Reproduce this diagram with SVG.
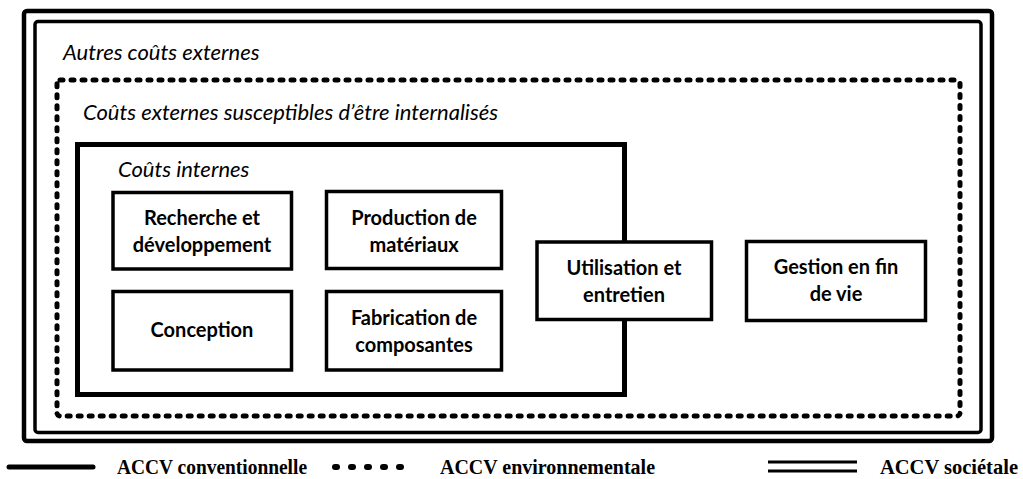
<svg xmlns="http://www.w3.org/2000/svg" width="1023" height="479" viewBox="0 0 1023 479">
  <style>
    .frame { fill: none; stroke: #000; }
    .box { fill: #fff; stroke: #000; stroke-width: 3.5; }
    .dash { fill: none; stroke: #000; stroke-width: 5; stroke-dasharray: 3 8; stroke-linecap: round; }
    .head { font-family: Lato, "Open Sans", sans-serif; font-style: italic; font-size: 22px; fill: #000; }
    .lbl { font-family: Lato, "Open Sans", sans-serif; font-weight: bold; font-size: 20px; fill: #000; text-anchor: middle; }
    .leg { font-family: "Liberation Serif", serif; font-weight: bold; font-size: 21px; fill: #000; }
  </style>
  <rect width="1023" height="479" fill="#fff"/>

  <!-- societal scope: double frame -->
  <g id="societal">
    <rect class="frame" x="24" y="11" width="968" height="430" rx="3" stroke-width="4.5"/>
    <rect class="frame" x="35" y="21.5" width="946" height="411" rx="3" stroke-width="3.5"/>
    <text class="head" x="63" y="60">Autres coûts externes</text>
  </g>

  <!-- environmental scope: dashed frame -->
  <g id="environmental">
    <rect class="dash" x="57" y="80" width="903" height="336" rx="3"/>
    <text class="head" x="83" y="120">Coûts externes susceptibles d’être internalisés</text>
  </g>

  <!-- conventional scope: solid frame -->
  <g id="conventional">
    <rect class="frame" x="77.5" y="144.5" width="547" height="250" stroke-width="5"/>
    <text class="head" x="118" y="177">Coûts internes</text>
  </g>

  <g id="recherche">
    <rect class="box" x="113" y="192.5" width="178.5" height="76.5"/>
    <text class="lbl" x="202" y="225">Recherche et</text>
    <text class="lbl" x="202" y="252">développement</text>
  </g>
  <g id="production">
    <rect class="box" x="326.5" y="191.5" width="175" height="77"/>
    <text class="lbl" x="414" y="225">Production de</text>
    <text class="lbl" x="414" y="252">matériaux</text>
  </g>
  <g id="conception">
    <rect class="box" x="113" y="291.5" width="178.5" height="78.5"/>
    <text class="lbl" x="202" y="337">Conception</text>
  </g>
  <g id="fabrication">
    <rect class="box" x="326.5" y="291.5" width="175" height="78.5"/>
    <text class="lbl" x="414" y="325">Fabrication de</text>
    <text class="lbl" x="414" y="352">composantes</text>
  </g>
  <g id="utilisation">
    <rect class="box" x="537" y="242" width="174.5" height="77.5"/>
    <text class="lbl" x="624" y="275">Utilisation et</text>
    <text class="lbl" x="624" y="302">entretien</text>
  </g>
  <g id="gestion">
    <rect class="box" x="746.5" y="241.5" width="179" height="79"/>
    <text class="lbl" x="836" y="274">Gestion en fin</text>
    <text class="lbl" x="836" y="301">de vie</text>
  </g>

  <g id="connectors"></g>

  <!-- legend -->
  <g id="legend">
    <line x1="9" y1="467" x2="93" y2="467" stroke="#000" stroke-width="5" stroke-linecap="round"/>
    <text class="leg" x="117" y="474" textLength="190" lengthAdjust="spacingAndGlyphs">ACCV conventionnelle</text>
    <line x1="335" y1="467" x2="415" y2="467" stroke="#000" stroke-width="6" stroke-dasharray="2 14" stroke-linecap="round"/>
    <text class="leg" x="440" y="474" textLength="215" lengthAdjust="spacingAndGlyphs">ACCV environnementale</text>
    <line x1="768" y1="462" x2="857" y2="462" stroke="#000" stroke-width="3"/>
    <line x1="768" y1="471" x2="857" y2="471" stroke="#000" stroke-width="3"/>
    <text class="leg" x="880" y="474" textLength="138" lengthAdjust="spacingAndGlyphs">ACCV sociétale</text>
  </g>
</svg>
